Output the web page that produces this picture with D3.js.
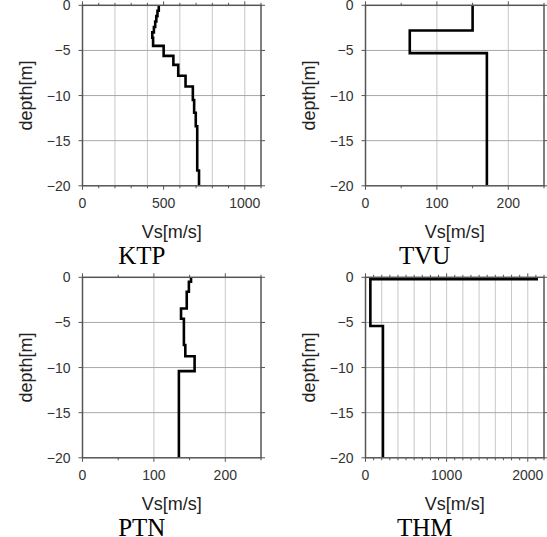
<!DOCTYPE html>
<html>
<head>
<meta charset="utf-8">
<script src="https://cdn.jsdelivr.net/npm/d3@7"></script>
<style>
  html, body { margin: 0; padding: 0; background: #fff; }
  svg { display: block; }
</style>
</head>
<body>
<svg id="chart" width="547" height="537"></svg>
<script>
// station names
const stations = ["KTP", "TVU", "PTN", "THM"];

// layer tops (m below surface) and shear-wave velocity of each layer (m/s)
const ktpTop = [0, 0.6, 1.2, 1.8, 2.4, 3.0, 3.6, 4.5, 5.6, 6.6, 7.8, 9.0, 10.5, 11.9, 13.4, 18.3];
const ktpVs  = [470, 462, 455, 448, 440, 430, 435, 500, 560, 590, 635, 680, 688, 698, 707, 718];

const tvuTop = [0, 2.8, 5.3];
const tvuVs  = [150, 62, 170];

const ptnTop = [0, 0.5, 1.6, 3.45, 4.6, 7.5, 8.75, 10.4];
const ptnVs  = [152, 149, 146, 138, 142, 144, 157, 135];

const thmTop = [0, 0.2, 5.4];
const thmVs  = [2110, 60, 215];

const maxDepth = 20;

// axis setup per station
const xMax      = [1100, 250, 250, 2200];
const xLabels   = [[0, 500, 1000], [0, 100, 200], [0, 100, 200], [0, 1000, 2000]];
const xGridStep = [200, 100, 100, 200];
const xMinor    = [100, 50, 50, 100];
const depthTicks = [0, -5, -10, -15, -20];

const profiles = [
  { top: ktpTop, vs: ktpVs },
  { top: tvuTop, vs: tvuVs },
  { top: ptnTop, vs: ptnVs },
  { top: thmTop, vs: thmVs }
];

const svg = d3.select("#chart");
const W = 178.5, H = 180.5;
const origins = [[82.5, 5.3], [365.5, 5.3], [82.5, 277.3], [365.5, 277.3]];
const sans = "Liberation Sans, Arial, sans-serif";

stations.forEach((name, k) => {
  const [ox, oy] = origins[k];
  const g = svg.append("g").attr("transform", `translate(${ox},${oy})`);

  const x = d3.scaleLinear().domain([0, xMax[k]]).range([0, W]);
  const y = d3.scaleLinear().domain([0, -maxDepth]).range([0, H]);

  // grid
  g.selectAll(".vgrid")
    .data(d3.range(xGridStep[k], xMax[k], xGridStep[k]))
    .join("line")
    .attr("x1", d => x(d)).attr("x2", d => x(d))
    .attr("y1", 0).attr("y2", H)
    .attr("stroke", "#c8c8c8").attr("stroke-width", 1);

  g.selectAll(".hgrid")
    .data(depthTicks.slice(1, -1))
    .join("line")
    .attr("x1", 0).attr("x2", W)
    .attr("y1", d => y(d)).attr("y2", d => y(d))
    .attr("stroke", "#a8a8a8").attr("stroke-width", 1);

  // minor / major ticks top & bottom
  const xt = d3.range(0, xMax[k] + 1e-6, xMinor[k]);
  g.selectAll(".tb")
    .data(xt)
    .join("line")
    .attr("x1", d => x(d)).attr("x2", d => x(d))
    .attr("y1", H).attr("y2", d => H + (xLabels[k].includes(d) ? 4 : 2.5))
    .attr("stroke", "#555").attr("stroke-width", 1);
  g.selectAll(".tt")
    .data(xt)
    .join("line")
    .attr("x1", d => x(d)).attr("x2", d => x(d))
    .attr("y1", 0).attr("y2", d => -(xLabels[k].includes(d) ? 4 : 2.5))
    .attr("stroke", "#555").attr("stroke-width", 1);

  // y ticks left & right
  g.selectAll(".tl")
    .data(depthTicks)
    .join("line")
    .attr("x1", -4).attr("x2", 0)
    .attr("y1", d => y(d)).attr("y2", d => y(d))
    .attr("stroke", "#555").attr("stroke-width", 1);
  g.selectAll(".tr")
    .data(depthTicks)
    .join("line")
    .attr("x1", W).attr("x2", W + 4)
    .attr("y1", d => y(d)).attr("y2", d => y(d))
    .attr("stroke", "#555").attr("stroke-width", 1);

  // profile as step line
  const p = profiles[k];
  const pts = [];
  p.vs.forEach((v, i) => {
    const bot = i + 1 < p.top.length ? p.top[i + 1] : maxDepth;
    pts.push([v, -p.top[i]], [v, -bot]);
  });
  g.append("path")
    .datum(pts)
    .attr("fill", "none")
    .attr("stroke", "#000")
    .attr("stroke-width", 2.6)
    .attr("stroke-linejoin", "miter")
    .attr("d", d3.line().x(d => x(d[0])).y(d => y(d[1])));

  // frame
  g.append("rect")
    .attr("x", 0).attr("y", 0).attr("width", W).attr("height", H)
    .attr("fill", "none").attr("stroke", "#555").attr("stroke-width", 1.5);

  // tick labels
  g.selectAll(".xl")
    .data(xLabels[k])
    .join("text")
    .attr("x", d => x(d)).attr("y", H + 22.5)
    .attr("text-anchor", "middle")
    .attr("font-family", sans)
    .attr("font-size", 14).attr("fill", "#333")
    .text(d => d);
  g.selectAll(".yl")
    .data(depthTicks)
    .join("text")
    .attr("x", -12).attr("y", d => y(d)).attr("dy", "0.36em")
    .attr("text-anchor", "end")
    .attr("font-family", sans)
    .attr("font-size", 14).attr("fill", "#333")
    .text(d => d3.format("")(d));

  // axis titles
  g.append("text")
    .attr("x", W / 2).attr("y", H + 52)
    .attr("text-anchor", "middle")
    .attr("font-family", sans)
    .attr("font-size", 18).attr("fill", "#222")
    .text("Vs[m/s]");
  g.append("text")
    .attr("transform", `translate(-51,${H / 2}) rotate(-90)`)
    .attr("text-anchor", "middle")
    .attr("font-family", sans)
    .attr("font-size", 18).attr("fill", "#222")
    .text("depth[m]");

  // station name
  g.append("text")
    .attr("x", W / 2 - 30).attr("y", H + 78)
    .attr("text-anchor", "middle")
    .attr("font-family", "Liberation Serif, Times New Roman, serif")
    .attr("font-size", 25).attr("fill", "#000")
    .text(name);
});
</script>
</body>
</html>
